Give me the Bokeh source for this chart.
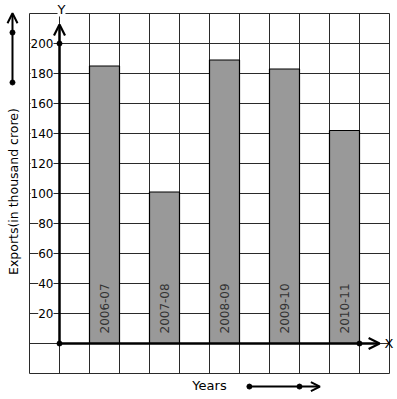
import math
from bokeh.plotting import figure
from bokeh.models import Arrow, OpenHead, Label, Range1d
from bokeh.embed import file_html
from bokeh.resources import INLINE
from bokeh.core.properties import value

# ---- data ----
years = ["2006-07", "2007-08", "2008-09", "2009-10", "2010-11"]
exports = [185, 101, 189, 183, 142]
bar_pos = [1.5, 3.5, 5.5, 7.5, 9.5]          # centres of bars on the grid (cell units)
y_ticks = [20, 40, 60, 80, 100, 120, 140, 160, 180, 200]
y_tick_labels = [str(v) for v in y_ticks]
grid_x = list(range(-1, 12))                 # vertical grid lines (cell units)
grid_y = list(range(-20, 221, 20))           # horizontal grid lines

FONT = value("DejaVu Sans")
LFONT = "DejaVu Sans"
GRID = "#2a2a2a"

W, H = 397, 399
# layout: grid spans px 29..389 horizontally and 13..373 vertically
x0, x1 = -1 - 29 / 30, 11 + (W - 389) / 30
y0, y1 = -20 - (H - 373) / 1.5, 220 + 13 / 1.5

p = figure(width=W, height=H,
           x_range=Range1d(x0, x1), y_range=Range1d(y0, y1),
           x_axis_type=None, y_axis_type=None,
           output_backend="svg", toolbar_location=None,
           min_border=0, min_border_left=0, min_border_right=0,
           min_border_top=0, min_border_bottom=0,
           outline_line_color=None,
           background_fill_color="white", border_fill_color="white")

# grid
p.segment(x0=grid_x, y0=[grid_y[0]] * len(grid_x), x1=grid_x, y1=[grid_y[-1]] * len(grid_x),
          line_color=GRID, line_width=1)
p.segment(x0=[grid_x[0]] * len(grid_y), y0=grid_y, x1=[grid_x[-1]] * len(grid_y), y1=grid_y,
          line_color=GRID, line_width=1)

# bars
p.vbar(x=bar_pos, width=1, bottom=0, top=exports,
       fill_color="#999999", line_color="black", line_width=1.2)

# labels inside bars
p.text(x=bar_pos, y=[0] * len(years), text=years, angle=math.pi / 2,
       y_offset=-10, text_align="left", text_baseline="middle",
       text_font=FONT, text_font_size="12px", text_color="#333333")

# y tick labels on the grid lines
p.text(x=[0] * len(y_ticks), y=y_ticks, text=y_tick_labels,
       x_offset=-6, text_align="right", text_baseline="middle",
       text_font=FONT, text_font_size="12px", text_color="black",
       background_fill_color="white", padding=0)

# axes as arrows
p.add_layout(Arrow(end=OpenHead(size=11, line_width=2.2), x_start=0, y_start=0,
                   x_end=0, y_end=212.7, line_width=2.5, line_color="black"))
p.add_layout(Arrow(end=OpenHead(size=11, line_width=2.2), x_start=0, y_start=0,
                   x_end=10.67, y_end=0, line_width=2.5, line_color="black"))

# decorative arrows (left and bottom)
p.add_layout(Arrow(end=OpenHead(size=10, line_width=2), x_start=-1.567, y_start=174,
                   x_end=-1.567, y_end=220.2, line_width=2, line_color="black"))
p.add_layout(Arrow(end=OpenHead(size=9, line_width=2), x_start=6.33, y_start=-28.7,
                   x_end=8.68, y_end=-28.7, line_width=2, line_color="black"))

# dots
p.scatter(x=[0, 0, 10, -1.567, -1.567, 6.33, 8.0],
          y=[0, 200, 0, 174, 207.3, -28.7, -28.7],
          size=5, color="black", level="overlay")

# text labels
p.add_layout(Label(x=0, y=223, x_offset=2, text="Y", text_align="center",
                   text_baseline="middle", text_font=LFONT, text_font_size="13px",
                   text_color="black", background_fill_color="white"))
p.add_layout(Label(x=10.98, y=0, text="X", text_align="center",
                   text_baseline="middle", text_font=LFONT, text_font_size="13px",
                   text_color="black"))
p.add_layout(Label(x=5.0, y=-28, text="Years", text_align="center",
                   text_baseline="middle", text_font=LFONT, text_font_size="13px",
                   text_color="black"))
p.add_layout(Label(x=-1.533, y=101.3, text="Exports(in thousand crore)",
                   angle=math.pi / 2, text_align="center", text_baseline="middle",
                   text_font=LFONT, text_font_size="12.5px", text_color="black"))

open("out.html", "w").write(file_html(p, INLINE))
